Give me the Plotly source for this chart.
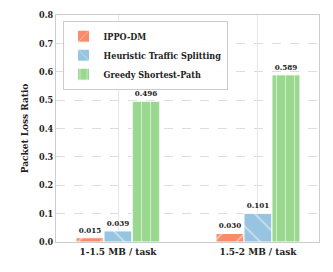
import plotly.graph_objects as go

categories = ["1-1.5 MB / task", "1.5-2 MB / task"]
series_names = ["IPPO-DM", "Heuristic Traffic Splitting", "Greedy Shortest-Path"]
ippo = [0.015, 0.030]
heuristic = [0.039, 0.101]
greedy = [0.496, 0.589]
y_ticks = [0.0, 0.1, 0.2, 0.3, 0.4, 0.5, 0.6, 0.7, 0.8]

colors = ["#F98B6A", "#97C4E0", "#9AD88F"]
shapes = ["/", "\\", "|"]
sizes = [16, 16, 9]
font = "DejaVu Serif Condensed, DejaVu Serif"

fig = go.Figure()
for name, vals, col, shp, sz in zip(series_names, [ippo, heuristic, greedy], colors, shapes, sizes):
    fig.add_trace(go.Bar(
        x=categories, y=vals, name=f"<b>{name}</b>",
        marker=dict(color=col, line=dict(color="white", width=1),
                    pattern=dict(shape=shp, fgcolor="white", size=sz, solidity=0.1 if sz > 10 else 0.12)),
        text=[f"<b>{v:.3f}</b>" for v in vals], textposition="outside",
        textfont=dict(family=font, size=8, color="#222"),
        cliponaxis=False,
    ))

fig.update_layout(
    width=325, height=264,
    margin=dict(l=48, r=14, t=7, b=30, autoexpand=False),
    plot_bgcolor="white", paper_bgcolor="white",
    barmode="group", bargap=0.4, bargroupgap=0,
    font=dict(family=font, color="#222"),
    showlegend=True,
    legend=dict(x=0.025, y=0.975, xanchor="left", yanchor="top",
                bgcolor="rgba(255,255,255,0.9)", bordercolor="#cccccc", borderwidth=1,
                font=dict(family=font, size=9, color="#222"),
                itemwidth=30, tracegroupgap=0),
    xaxis=dict(range=[-0.443, 1.436], showgrid=True, gridcolor="#e6e6e6", gridwidth=1,
               showline=True, linecolor="#cccccc", mirror=True, automargin=False,
               tickvals=categories, ticktext=[f"<b>{c}</b>" for c in categories],
               tickfont=dict(family=font, size=10, color="#222"), ticks=""),
    yaxis=dict(range=[0, 0.8], tickvals=y_ticks, ticktext=[f"<b>{t:.1f}</b>" for t in y_ticks],
               showgrid=True, gridcolor="#dddddd", griddash="dash", gridwidth=1,
               showline=True, linecolor="#cccccc", mirror=True, zeroline=False, automargin=False,
               tickfont=dict(family=font, size=9, color="#222"), ticks="",
               title=dict(text="<b>Packet Loss Ratio</b>", font=dict(family=font, size=10, color="#222"), standoff=8)),
)

fig.write_html("out.html")
